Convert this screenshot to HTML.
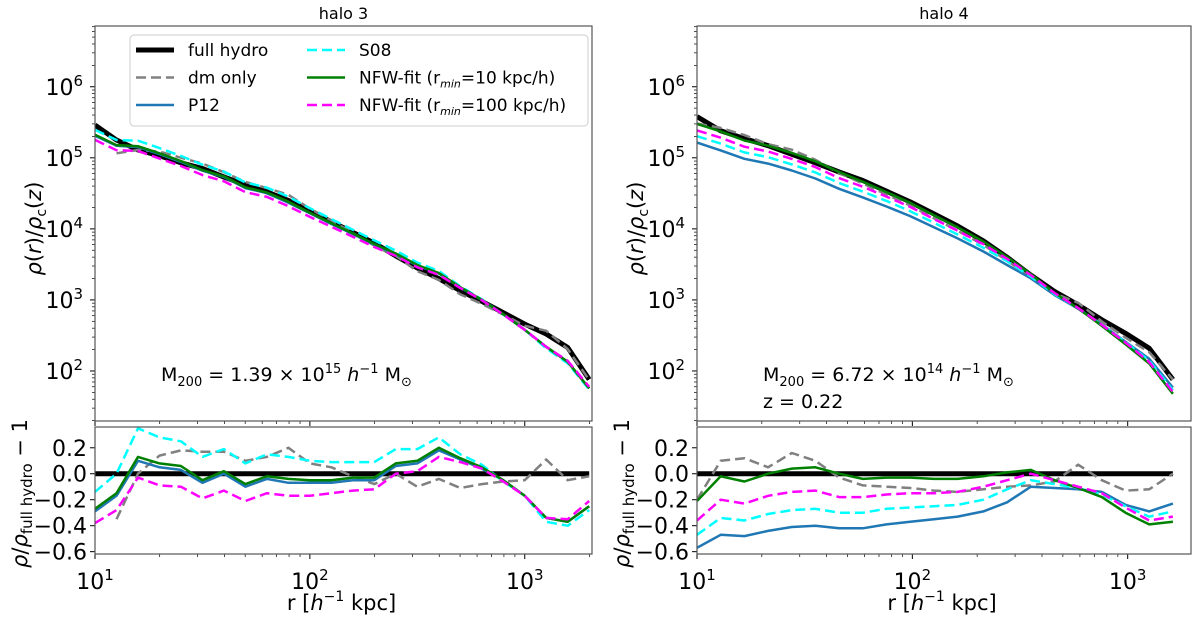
<!DOCTYPE html>
<html><head><meta charset="utf-8"><style>
html,body{margin:0;padding:0;background:#fff;}
svg{display:block;font-family:"DejaVu Sans","Liberation Sans",sans-serif;}
</style></head><body>
<svg id="fig" width="1200" height="620" viewBox="0 0 1200 620" xmlns="http://www.w3.org/2000/svg"></svg>
<script>
// ---------- data ----------
const leftLogR = [1.0,1.1,1.2,1.3,1.4,1.5,1.6,1.7,1.8,1.9,2.0,2.1,2.2,2.3,2.4,2.5,2.6,2.7,2.8,2.9,3.0,3.1,3.2,3.3];
const leftHydro = [5.46,5.25,5.11,5.03,4.93,4.85,4.73,4.62,4.52,4.40,4.25,4.10,3.95,3.80,3.62,3.45,3.30,3.13,2.98,2.82,2.66,2.52,2.33,1.88];
const leftDm    = [null,-0.35,0.0,0.14,0.18,0.17,0.17,0.10,0.13,0.20,0.08,0.05,-0.02,-0.08,0.0,-0.10,-0.04,-0.11,-0.08,-0.06,-0.05,0.11,-0.05,-0.02];
const leftP12   = [-0.29,-0.17,0.10,0.05,0.03,-0.07,0.0,-0.10,-0.04,-0.07,-0.07,-0.07,-0.05,-0.05,0.06,0.08,0.18,0.11,0.04,-0.05,-0.17,-0.34,-0.37,-0.25];
const leftS08   = [-0.14,0.0,0.35,0.28,0.25,0.13,0.19,0.08,0.15,0.13,0.10,0.09,0.09,0.09,0.19,0.19,0.28,0.15,0.07,-0.06,-0.17,-0.37,-0.40,-0.28];
const leftNfw10 = [-0.27,-0.15,0.13,0.08,0.06,-0.05,0.02,-0.08,-0.02,-0.04,-0.05,-0.05,-0.03,-0.03,0.08,0.10,0.20,0.12,0.05,-0.05,-0.17,-0.34,-0.37,-0.25];
const leftNfw100= [-0.38,-0.28,-0.03,-0.09,-0.10,-0.19,-0.13,-0.21,-0.15,-0.17,-0.17,-0.15,-0.13,-0.12,0.0,0.02,0.13,0.09,0.04,-0.06,-0.17,-0.34,-0.35,-0.21];

const rightLogR = [1.0,1.11,1.22,1.33,1.44,1.55,1.66,1.77,1.88,1.99,2.10,2.21,2.33,2.44,2.55,2.66,2.77,2.88,2.99,3.10,3.21];
const rightHydro = [5.58,5.38,5.27,5.17,5.05,4.93,4.80,4.68,4.53,4.38,4.21,4.04,3.83,3.60,3.35,3.12,2.93,2.72,2.53,2.32,1.88];
const rightDm    = [-0.20,0.10,0.12,0.05,0.16,0.10,-0.03,-0.09,-0.10,-0.11,-0.13,-0.14,-0.12,-0.10,-0.09,-0.06,0.07,-0.05,-0.13,-0.12,0.0];
const rightP12   = [-0.57,-0.47,-0.48,-0.44,-0.41,-0.40,-0.42,-0.42,-0.39,-0.37,-0.35,-0.33,-0.29,-0.22,-0.10,-0.11,-0.12,-0.14,-0.24,-0.29,-0.23];
const rightS08   = [-0.47,-0.34,-0.36,-0.31,-0.28,-0.27,-0.30,-0.30,-0.27,-0.26,-0.25,-0.24,-0.20,-0.12,-0.05,-0.08,-0.11,-0.16,-0.25,-0.33,-0.29];
const rightNfw10 = [-0.21,-0.02,-0.06,0.0,0.04,0.05,0.0,-0.04,-0.03,-0.03,-0.04,-0.04,-0.02,0.01,0.03,-0.05,-0.11,-0.18,-0.30,-0.39,-0.37];
const rightNfw100= [-0.36,-0.20,-0.23,-0.17,-0.14,-0.13,-0.18,-0.18,-0.16,-0.15,-0.15,-0.14,-0.10,-0.05,0.0,-0.05,-0.10,-0.15,-0.26,-0.36,-0.33];

const yTopTicks = [2,3,4,5,6];
const yBotTicks = [0.2,0.0,-0.2,-0.4,-0.6];
const yBotLabels = ["0.2","0.0","\u22120.2","\u22120.4","\u22120.6"];
const xTicks = [1,2,3];

// ---------- drawing ----------
const NS="http://www.w3.org/2000/svg";
const svg=document.getElementById('fig');
function el(tag,attrs,parent){const e=document.createElementNS(NS,tag);for(const k in attrs)e.setAttribute(k,attrs[k]);(parent||svg).appendChild(e);return e;}

const styles = {
  hydro:{stroke:'#000',w:5,dash:null},
  dm:{stroke:'#808080',w:2.5,dash:'10,5'},
  p12:{stroke:'#1f77b4',w:2.5,dash:null},
  s08:{stroke:'#00ffff',w:2.5,dash:'10,5'},
  nfw10:{stroke:'#008000',w:2.5,dash:null},
  nfw100:{stroke:'#ff00ff',w:2.5,dash:'10,5'}
};

function panel(id,x0,x1,xmaxLog,logR,hydro,series,title,notes){
  const g=el('g',{});  
  const tT=26,tB=421,bT=427,bB=554;
  const yTopMin=1.296,yTopMax=6.855, yBotMin=-0.618,yBotMax=0.36;
  const X=l=>x0+(l-1)/(xmaxLog-1)*(x1-x0);
  const YT=v=>tB-(v-yTopMin)/(yTopMax-yTopMin)*(tB-tT);
  const YB=v=>bB-(v-yBotMin)/(yBotMax-yBotMin)*(bB-bT);
  const t=el('text',{x:(x0+x1)/2,y:19,'text-anchor':'middle','font-size':16},g);t.textContent=title;
  
  const clipTop='ct'+id, clipBot='cb'+id;
  const defs=el('defs',{},g);
  const c1=el('clipPath',{id:clipTop},defs);el('rect',{x:x0,y:tT,width:x1-x0,height:tB-tT},c1);
  const c2=el('clipPath',{id:clipBot},defs);el('rect',{x:x0,y:bT,width:x1-x0,height:bB-bT},c2);
  const gt=el('g',{'clip-path':'url(#'+clipTop+')'},g);
  const gb=el('g',{'clip-path':'url(#'+clipBot+')'},g);
  function ticksX(yb){
    for(let d=1;d<=3;d++){for(let m=1;m<10;m++){const l=d+Math.log10(m);if(l>xmaxLog)break;const x=X(l);const len=m===1?5:3;
      el('line',{x1:x,x2:x,y1:yb,y2:yb+len,stroke:'#000','stroke-width':m===1?1:0.7},g);}}
  }
  ticksX(tB); ticksX(bB);
  xTicks.forEach(d=>{const tx=el('text',{x:X(d),y:589,'text-anchor':'middle','font-size':22},g);
    
    tx.appendChild(document.createTextNode('10'));const s=el('tspan',{dy:-9,'font-size':15},tx);s.textContent=String(d);});
  for(let d=1;d<=6;d++){for(let m=1;m<10;m++){const l=d+Math.log10(m);if(l<yTopMin||l>yTopMax)continue;const y=YT(l);
    el('line',{x1:x0,x2:x0-(m===1?5:3),y1:y,y2:y,stroke:'#000','stroke-width':m===1?1:0.7},g);}}
  yTopTicks.forEach(d=>{const tx=el('text',{x:x0-12,y:YT(d)+8,'text-anchor':'end','font-size':22},g);
    
    tx.appendChild(document.createTextNode('10'));const s=el('tspan',{dy:-9,'font-size':15},tx);s.textContent=String(d);});
  yBotTicks.forEach((v,i)=>{const y=YB(v);el('line',{x1:x0,x2:x0-5,y1:y,y2:y,stroke:'#000'},g);
    const tx=el('text',{x:x0-8,y:y+8,'text-anchor':'end','font-size':22},g);tx.textContent=yBotLabels[i];
    });
  const yl=el('text',{transform:`translate(${x0-54},${(tT+tB)/2+5}) rotate(-90)`,'text-anchor':'middle','font-size':21},g);
  
  yl.innerHTML='<tspan font-style="italic">ρ</tspan>(<tspan font-style="italic">r</tspan>)/<tspan font-style="italic">ρ</tspan><tspan font-size="14" dy="5">c</tspan><tspan dy="-5">(</tspan><tspan font-style="italic">z</tspan>)';
  const yl2=el('text',{transform:`translate(${x0-68},${(bT+bB)/2+3}) rotate(-90)`,'text-anchor':'middle','font-size':21},g);
  
  yl2.innerHTML='<tspan font-style="italic">ρ</tspan>/<tspan font-style="italic">ρ</tspan><tspan font-size="15" dy="5">full hydro</tspan><tspan dy="-5"> − 1</tspan>';
  const xl=el('text',{x:(x0+x1)/2-2,y:610,'text-anchor':'middle','font-size':21},g);
  
  xl.innerHTML='r  [<tspan font-style="italic">h</tspan><tspan font-size="14" dy="-9">−1</tspan><tspan dy="9"> kpc]</tspan>';
  function poly(parent,pts,st,name){
    if(!pts.length)return;
    const p=el('polyline',{points:pts.map(q=>q[0].toFixed(1)+','+q[1].toFixed(1)).join(' '),fill:'none',stroke:st.stroke,'stroke-width':st.w,'stroke-linejoin':'round'},parent);
    if(st.dash)p.setAttribute('stroke-dasharray',st.dash);
    
  }
  const order=['dm','p12','s08','nfw10','nfw100'];
  poly(gt,logR.map((l,i)=>[X(l),YT(hydro[i])]),styles.hydro,id+'-full-hydro-profile');
  order.forEach(k=>{const arr=series[k];const pts=[];logR.forEach((l,i)=>{if(arr[i]!==null)pts.push([X(l),YT(hydro[i]+Math.log10(1+arr[i]))]);});
    poly(gt,pts,styles[k],id+'-'+k+'-profile');});
  poly(gb,[[x0,YB(0)],[X(logR[logR.length-1]),YB(0)]],styles.hydro,id+'-full-hydro-residual');
  order.forEach(k=>{const arr=series[k];const pts=[];logR.forEach((l,i)=>{if(arr[i]!==null)pts.push([X(l),YB(arr[i])]);});
    poly(gb,pts,styles[k],id+'-'+k+'-residual');});
  el('rect',{x:x0,y:tT,width:x1-x0,height:tB-tT,fill:'none',stroke:'#555','stroke-width':1.2},g);
  el('rect',{x:x0,y:bT,width:x1-x0,height:bB-bT,fill:'none',stroke:'#555','stroke-width':1.2},g);
  notes.forEach((n,i)=>{const tx=el('text',{x:x0+66,y:381+i*27,'font-size':19},g);tx.innerHTML=n;
    });
}

panel('halo3',95,592,3.313,leftLogR,leftHydro,{dm:leftDm,p12:leftP12,s08:leftS08,nfw10:leftNfw10,nfw100:leftNfw100},'halo 3',
 ['M<tspan font-size="13" dy="5">200</tspan><tspan dy="-5"> = 1.39 × 10</tspan><tspan font-size="13" dy="-8">15</tspan><tspan dy="8" font-style="italic"> h</tspan><tspan font-size="13" dy="-8">−1</tspan><tspan dy="8"> M</tspan><tspan font-size="13" dy="5">⊙</tspan>']);
panel('halo4',697,1191,3.294,rightLogR,rightHydro,{dm:rightDm,p12:rightP12,s08:rightS08,nfw10:rightNfw10,nfw100:rightNfw100},'halo 4',
 ['M<tspan font-size="13" dy="5">200</tspan><tspan dy="-5"> = 6.72 × 10</tspan><tspan font-size="13" dy="-8">14</tspan><tspan dy="8" font-style="italic"> h</tspan><tspan font-size="13" dy="-8">−1</tspan><tspan dy="8"> M</tspan><tspan font-size="13" dy="5">⊙</tspan>','z = 0.22']);

const lg=el('g',{});  
el('rect',{x:130,y:35,width:458,height:91,rx:4,fill:'#fff','fill-opacity':0.85,stroke:'#ccc'},lg);
const entries=[['hydro','full hydro',0,0],['dm','dm only',0,1],['p12','P12',0,2],['s08','S08',1,0],['nfw10','NFW-fit (r<tspan font-size="11" font-style="italic" dy="4">min</tspan><tspan dy="-4">=10 kpc/h)</tspan>',1,1],['nfw100','NFW-fit (r<tspan font-size="11" font-style="italic" dy="4">min</tspan><tspan dy="-4">=100 kpc/h)</tspan>',1,2]];
entries.forEach(e=>{const st=styles[e[0]];const bx=e[2]?307:136;const y=50+e[3]*27.5;
  const eg=el('g',{},lg);
  const ln=el('line',{x1:bx,x2:bx+38,y1:y,y2:y,stroke:st.stroke,'stroke-width':st.w},eg);if(st.dash)ln.setAttribute('stroke-dasharray',st.dash);
  const tx=el('text',{x:bx+52,y:y+6,'font-size':17},eg);tx.innerHTML=e[1];});
</script>
</body></html>
